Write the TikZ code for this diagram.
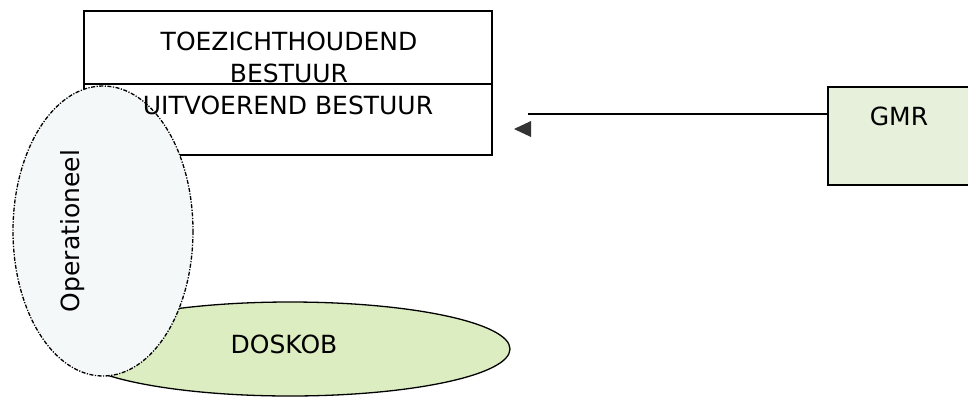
\documentclass[tikz,border=0pt]{standalone}
\usepackage{fontspec}
\setmainfont{DejaVu Sans}
\definecolor{opfill}{HTML}{F4F8F9}
\definecolor{dosfill}{HTML}{DDEDC2}
\definecolor{gmrfill}{HTML}{E6F0DA}
\tikzset{
  lbl/.style={font=\fontsize{25}{29}\selectfont, inner sep=0pt},
  boxline/.style={draw=black, line width=1.3pt},
  dashdotline/.style={draw=black, line width=1.3pt, dash pattern=on 4pt off 1.5pt on 1.2pt off 1.5pt},
}
\begin{document}
\begin{tikzpicture}[x=1pt,y=-1pt]
\useasboundingbox (0,0) rectangle (968,397);
% boxes
\draw[boxline] (84,11) rectangle (492,84);
\draw[boxline] (84,84) rectangle (492,155);
\node[lbl, align=center] (toe) at (289,57.5) {TOEZICHTHOUDEND\\[3pt]BESTUUR};
% DOSKOB ellipse
\path[boxline, fill=dosfill] (290,349) ellipse [x radius=220, y radius=47];
\node[lbl] (dos) at (284,344) {DOSKOB};
% Operationeel ellipse
\path[dashdotline, fill=opfill] (103,231) ellipse [x radius=90, y radius=145];
\node[lbl, rotate=90] (op) at (73,231) {Operationeel};
\node[lbl] (uit) at (288,105) {UITVOEREND BESTUUR};
% GMR
\path[boxline, fill=gmrfill] (828,87) rectangle (975,185);
\node[lbl] (gmr) at (899,116) {GMR};
\coordinate (gmrw) at (828,114);
\coordinate (lineend) at (528,114);
\draw[line width=1.2pt] (gmrw) -- (lineend);
\fill[black!80] (514,129) -- (531,121) -- (531,137) -- cycle;
\end{tikzpicture}
\end{document}
